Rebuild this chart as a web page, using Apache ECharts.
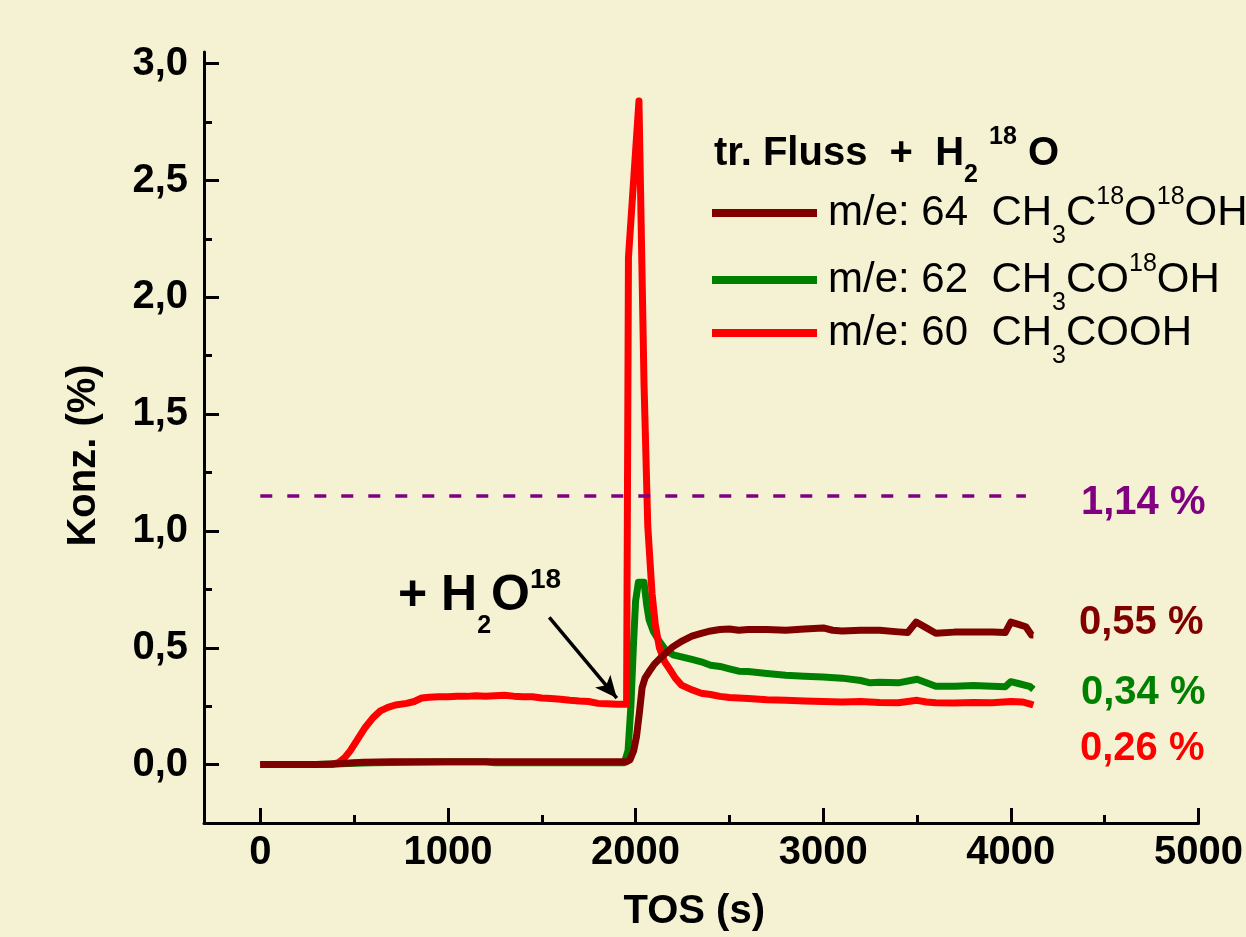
<!DOCTYPE html>
<html>
<head>
<meta charset="utf-8">
<title>TOS - Konz.</title>
<script src="https://cdn.jsdelivr.net/npm/echarts@6/dist/echarts.min.js"></script>
<style>
    html, body { margin: 0; padding: 0; background: #F5F2D3; }
    #chart { width: 1246px; height: 937px; }
</style>
</head>
<body>
<div id="chart"></div>
<script>
'use strict';

// TOS (s) / Konz. (%) pairs
var m64 = [[0,0],[300,0],[380,0.003],[450,0.006],[550,0.01],[700,0.012],[900,0.012],[1200,0.012],[1500,0.012],[1800,0.012],
    [1950,0.012],[1970,0.02],[1990,0.06],[2005,0.12],[2020,0.22],[2035,0.33],[2050,0.37],[2070,0.395],[2100,0.43],[2150,0.47],
    [2200,0.505],[2250,0.53],[2300,0.55],[2350,0.562],[2400,0.572],[2450,0.578],[2500,0.58],[2550,0.575],[2600,0.578],[2700,0.578],
    [2800,0.575],[2900,0.58],[3000,0.585],[3050,0.575],[3100,0.572],[3200,0.575],[3300,0.575],[3400,0.568],[3450,0.565],[3495,0.61],
    [3550,0.585],[3600,0.562],[3700,0.567],[3800,0.568],[3900,0.568],[3970,0.565],[4000,0.61],[4040,0.6],[4080,0.59],[4110,0.555],[4120,0.555]];

var m62 = [[0,0],[300,0],[400,0.003],[500,0.006],[600,0.008],[800,0.01],[1000,0.012],[1200,0.012],[1250,0.008],[1500,0.008],
    [1800,0.008],[1940,0.008],[1960,0.06],[1975,0.25],[1988,0.5],[2000,0.7],[2015,0.78],[2045,0.78],[2060,0.68],[2072,0.62],
    [2095,0.57],[2125,0.53],[2160,0.49],[2200,0.47],[2250,0.46],[2300,0.45],[2350,0.44],[2400,0.425],[2450,0.42],[2500,0.41],
    [2550,0.4],[2600,0.398],[2700,0.39],[2800,0.382],[2900,0.378],[3000,0.375],[3100,0.37],[3200,0.36],[3250,0.35],[3300,0.352],
    [3400,0.35],[3500,0.365],[3550,0.35],[3600,0.335],[3700,0.335],[3800,0.338],[3900,0.335],[3970,0.333],[4000,0.355],[4050,0.345],
    [4100,0.335],[4120,0.322]];

var m60 = [[0,0],[150,0],[300,0],[380,0],[420,0.01],[450,0.03],[480,0.06],[520,0.11],[560,0.16],[600,0.2],[640,0.23],[680,0.245],
    [720,0.255],[780,0.262],[820,0.27],[860,0.285],[900,0.288],[950,0.29],[1000,0.29],[1050,0.293],[1100,0.292],[1150,0.295],
    [1200,0.293],[1250,0.295],[1300,0.297],[1350,0.293],[1400,0.29],[1450,0.29],[1500,0.285],[1550,0.283],[1600,0.28],[1650,0.275],
    [1700,0.272],[1750,0.27],[1800,0.262],[1850,0.26],[1900,0.258],[1952,0.258],[1962,2.17],[2018,2.84],[2045,1.63],[2065,1.02],
    [2088,0.73],[2105,0.6],[2127,0.5],[2155,0.44],[2180,0.41],[2212,0.37],[2245,0.34],[2300,0.32],[2350,0.305],[2400,0.3],
    [2450,0.292],[2500,0.287],[2600,0.283],[2700,0.278],[2800,0.275],[2900,0.272],[3000,0.27],[3100,0.268],[3200,0.27],[3300,0.266],
    [3400,0.265],[3500,0.275],[3550,0.268],[3600,0.265],[3700,0.264],[3800,0.266],[3900,0.265],[4000,0.27],[4060,0.268],[4100,0.26],[4120,0.255]];

var xMajorTicks = [0, 1000, 2000, 3000, 4000, 5000];
var xMinorTicks = [500, 1500, 2500, 3500, 4500];
var yMajorTicks = [0, 0.5, 1, 1.5, 2, 2.5, 3];
var yMinorTicks = [0.25, 0.75, 1.25, 1.75, 2.25, 2.75];

var refLevel = 1.15;            // dashed line, labelled 1,14 %
var refStart = 0, refEnd = 4080;
var arrowFrom = [1540, 0.63], arrowTo = [1900, 0.285];

var FONT = "'Liberation Sans', Arial, sans-serif";

var legendText = {
    '64': '{m|m/e: 64  CH}{sub|3}{m|C}{sup|18}{m|O}{sup|18}{m|OH}',
    '62': '{m|m/e: 62  CH}{sub|3}{m|CO}{sup|18}{m|OH}',
    '60': '{m|m/e: 60  CH}{sub|3}{m|COOH}'
};
var legendRich = {
    m: { fontFamily: FONT, fontSize: 42, color: '#000' },
    sub: { fontFamily: FONT, fontSize: 25, color: '#000', padding: [47, 0, 0, 0] },
    sup: { fontFamily: FONT, fontSize: 25, color: '#000', padding: [0, 0, 31, 0] }
};

function legendAt(name, top) {
    return {
        data: [name], left: 712, top: top, padding: 0, orient: 'vertical',
        itemWidth: 105, itemHeight: 8, icon: 'rect', selectedMode: false,
        formatter: function(n) { return legendText[n]; },
        textStyle: { padding: [0, 0, 0, 6], rich: legendRich }
    };
}

function comma(v) {
    return v.toFixed(1).replace('.', ',');
}

var chart = echarts.init(document.getElementById('chart'));

var boldText = { fontFamily: FONT, fontSize: 40, fontWeight: 'bold', color: '#000' };

chart.setOption({
    backgroundColor: '#F5F2D3',
    animation: false,
    textStyle: { fontFamily: FONT },
    grid: { left: 204, right: 45, top: 52, bottom: 114, containLabel: false },
    title: {
        left: 714, top: 119, padding: 0,
        text: '{b|tr. Fluss  +  H}{bs|2}{b| }{bp|18}{b| O}',
        textStyle: {
            rich: {
                b: boldText,
                bs: { fontFamily: FONT, fontSize: 25, fontWeight: 'bold', color: '#000', padding: [44, 0, 0, 0] },
                bp: { fontFamily: FONT, fontSize: 25, fontWeight: 'bold', color: '#000', padding: [0, 0, 33, 0] }
            }
        }
    },
    legend: [legendAt('64', 185), legendAt('62', 252), legendAt('60', 312)],
    xAxis: [{
        type: 'value', min: -300, max: 5000,
        name: 'TOS (s)', nameLocation: 'middle', nameGap: 69,
        nameTextStyle: { fontFamily: FONT, fontSize: 40, fontWeight: 'bold', color: '#000', padding: [0, 14, 0, 0] },
        axisLine: { onZero: false, lineStyle: { color: '#000', width: 3 } },
        axisTick: { inside: true, length: 15, customValues: xMajorTicks, lineStyle: { color: '#000', width: 3 } },
        axisLabel: {
            customValues: xMajorTicks, margin: 10, formatter: function(v) { return String(v); },
            fontFamily: FONT, fontSize: 40, fontWeight: 'bold', color: '#000'
        },
        splitLine: { show: false }
    }, {
        type: 'value', min: -300, max: 5000, position: 'bottom',
        axisLine: { show: false, onZero: false },
        axisTick: { inside: true, length: 8, customValues: xMinorTicks, lineStyle: { color: '#000', width: 3 } },
        axisLabel: { show: false },
        splitLine: { show: false }
    }],
    yAxis: [{
        type: 'value', min: -0.25, max: 3.05,
        name: 'Konz. (%)', nameLocation: 'middle', nameGap: 100,
        nameTextStyle: { fontFamily: FONT, fontSize: 40, fontWeight: 'bold', color: '#000', padding: [0, 36, 0, 0] },
        axisLine: { show: true, onZero: false, lineStyle: { color: '#000', width: 3 } },
        axisTick: { show: true, inside: true, length: 15, customValues: yMajorTicks, lineStyle: { color: '#000', width: 3 } },
        axisLabel: { customValues: yMajorTicks, margin: 16, formatter: comma, fontFamily: FONT, fontSize: 40, fontWeight: 'bold', color: '#000' },
        splitLine: { show: false }
    }, {
        type: 'value', min: -0.25, max: 3.05, position: 'left',
        axisLine: { show: false, onZero: false },
        axisTick: { show: true, inside: true, length: 8, customValues: yMinorTicks, lineStyle: { color: '#000', width: 3 } },
        axisLabel: { show: false },
        splitLine: { show: false }
    }],
    series: [{
        name: '62', type: 'line', data: m62, symbol: 'none', color: '#008000',
        lineStyle: { width: 7, join: 'round' }
    }, {
        name: '60', type: 'line', data: m60, symbol: 'none', color: '#FF0000',
        lineStyle: { width: 7, join: 'round' }
    }, {
        name: '64', type: 'line', data: m64, symbol: 'none', color: '#800000',
        lineStyle: { width: 7, join: 'round' }
    }, {
        name: 'annot', type: 'line', data: [], silent: true,
        markLine: {
            silent: true, symbol: 'none', label: { show: false },
            data: [
                [{ coord: [refStart, refLevel], lineStyle: { color: '#800080', width: 3.5, type: [12, 15] } },
                 { coord: [refEnd, refLevel] }],
                [{ coord: arrowFrom, symbol: 'none', lineStyle: { color: '#000', width: 3.5, type: 'solid' } },
                 { coord: arrowTo, symbol: 'arrow', symbolSize: [15, 22] }]
            ]
        }
    }],
    graphic: [{
        type: 'text', x: 398, y: 596, silent: true,
        style: {
            text: '{b|+ H}{bs|2}{b|O}{bp|18}',
            verticalAlign: 'middle', align: 'left',
            rich: {
                b: { fontFamily: FONT, fontSize: 50, fontWeight: 'bold', fill: '#000' },
                bs: { fontFamily: FONT, fontSize: 25, fontWeight: 'bold', fill: '#000', padding: [61, 0, 0, 0] },
                bp: { fontFamily: FONT, fontSize: 28, fontWeight: 'bold', fill: '#000', padding: [0, 0, 32, 0] }
            }
        }
    }, {
        type: 'text', x: 1081, y: 503, silent: true,
        style: { text: '1,14 %', fill: '#800080', font: 'bold 40px ' + FONT, verticalAlign: 'middle' }
    }, {
        type: 'text', x: 1079, y: 623, silent: true,
        style: { text: '0,55 %', fill: '#800000', font: 'bold 40px ' + FONT, verticalAlign: 'middle' }
    }, {
        type: 'text', x: 1081, y: 693, silent: true,
        style: { text: '0,34 %', fill: '#008000', font: 'bold 40px ' + FONT, verticalAlign: 'middle' }
    }, {
        type: 'text', x: 1080, y: 749, silent: true,
        style: { text: '0,26 %', fill: '#FF0000', font: 'bold 40px ' + FONT, verticalAlign: 'middle' }
    }]
});

window.addEventListener('resize', function() {
    chart.resize();
});
</script>
</body>
</html>
